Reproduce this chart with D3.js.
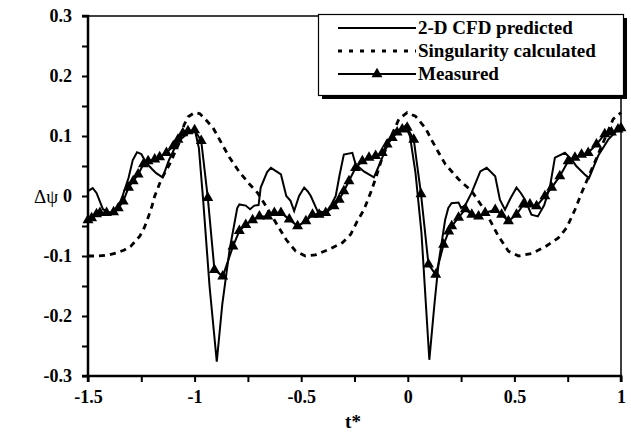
<!DOCTYPE html>
<html>
<head>
<meta charset="utf-8">
<script src="https://cdn.jsdelivr.net/npm/d3@7"></script>
<style>
  html, body { margin: 0; padding: 0; background: #fff; }
  svg { display: block; }
  text { font-family: "Liberation Serif", "Times New Roman", serif; fill: #000; }
</style>
</head>
<body>
<svg id="chart" width="631" height="434"></svg>
<script>
// 2-D CFD prediction
const cfdT = [-1.5, -1.478, -1.46, -1.43, -1.40, -1.38, -1.36, -1.34, -1.31, -1.29, -1.27, -1.25, -1.23, -1.20, -1.18, -1.15, -1.12, -1.08, -1.04, -1.0, -0.98, -0.96, -0.93, -0.896, -0.87, -0.836, -0.80, -0.79, -0.76, -0.74, -0.72, -0.70, -0.69, -0.66, -0.642, -0.62, -0.595, -0.57, -0.55, -0.533, -0.51, -0.486, -0.47, -0.455, -0.424, -0.385, -0.36, -0.338, -0.32, -0.30, -0.26, -0.245, -0.206, -0.159, -0.13, -0.104, -0.065, -0.03, -0.011, 0.01, 0.036, 0.064, 0.101, 0.125, 0.145, 0.175, 0.19, 0.205, 0.238, 0.25, 0.27, 0.30, 0.34, 0.37, 0.41, 0.432, 0.456, 0.48, 0.51, 0.53, 0.55, 0.58, 0.61, 0.64, 0.667, 0.69, 0.737, 0.77, 0.79, 0.83, 0.85, 0.893, 0.94, 0.986, 1.0];
const cfdV = [0.008, 0.013, 0.005, -0.022, -0.028, -0.03, -0.02, -0.002, 0.03, 0.06, 0.073, 0.07, 0.057, 0.045, 0.038, 0.031, 0.06, 0.09, 0.102, 0.112, 0.08, -0.006, -0.15, -0.276, -0.18, -0.09, -0.02, -0.014, -0.016, -0.022, -0.016, -0.015, 0.014, 0.04, 0.047, 0.042, 0.036, 0.0, -0.008, -0.025, 0.0, 0.014, 0.008, 0.0, -0.025, -0.028, -0.015, 0.0, 0.035, 0.069, 0.072, 0.053, 0.041, 0.031, 0.055, 0.078, 0.106, 0.11, 0.117, 0.10, 0.039, -0.061, -0.273, -0.18, -0.11, -0.04, -0.02, -0.012, -0.011, -0.02, -0.015, 0.006, 0.041, 0.047, 0.033, -0.006, -0.023, -0.005, 0.014, 0.005, -0.006, -0.031, -0.034, -0.015, 0.016, 0.064, 0.072, 0.06, 0.05, 0.036, 0.03, 0.067, 0.094, 0.111, 0.115];

// Singularity method
const singT = [-1.5, -1.45, -1.40, -1.366, -1.33, -1.30, -1.257, -1.235, -1.218, -1.20, -1.187, -1.156, -1.117, -1.09, -1.07, -1.05, -1.03, -1.0, -0.975, -0.95, -0.914, -0.883, -0.836, -0.79, -0.743, -0.704, -0.665, -0.618, -0.57, -0.526, -0.48, -0.433, -0.37, -0.307, -0.268, -0.237, -0.206, -0.175, -0.152, -0.12, -0.081, -0.042, -0.003, 0.036, 0.083, 0.114, 0.145, 0.176, 0.238, 0.30, 0.363, 0.425, 0.472, 0.52, 0.58, 0.643, 0.706, 0.745, 0.784, 0.815, 0.862, 0.909, 0.963, 1.0];
const singV = [-0.1, -0.1, -0.098, -0.095, -0.09, -0.084, -0.067, -0.052, -0.036, -0.017, 0.0, 0.028, 0.053, 0.075, 0.09, 0.118, 0.132, 0.139, 0.137, 0.128, 0.114, 0.094, 0.064, 0.04, 0.02, 0.005, -0.017, -0.045, -0.073, -0.092, -0.1, -0.098, -0.089, -0.078, -0.064, -0.042, -0.023, 0.005, 0.028, 0.064, 0.097, 0.128, 0.139, 0.133, 0.113, 0.092, 0.072, 0.053, 0.028, 0.008, -0.025, -0.067, -0.092, -0.1, -0.096, -0.085, -0.07, -0.053, -0.023, 0.005, 0.044, 0.083, 0.128, 0.139];

// Measured samples
const measT = [-1.5, -1.483, -1.46, -1.444, -1.413, -1.38, -1.358, -1.335, -1.31, -1.288, -1.265, -1.24, -1.218, -1.187, -1.164, -1.132, -1.10, -1.078, -1.055, -1.031, -1.0, -0.969, -0.938, -0.907, -0.868, -0.82, -0.79, -0.76, -0.728, -0.696, -0.657, -0.626, -0.595, -0.556, -0.517, -0.478, -0.447, -0.416, -0.385, -0.346, -0.322, -0.30, -0.276, -0.245, -0.213, -0.182, -0.151, -0.12, -0.097, -0.073, -0.05, -0.026, -0.003, 0.028, 0.062, 0.097, 0.131, 0.168, 0.192, 0.206, 0.238, 0.27, 0.30, 0.332, 0.363, 0.41, 0.44, 0.472, 0.51, 0.542, 0.573, 0.604, 0.643, 0.675, 0.713, 0.752, 0.784, 0.815, 0.846, 0.885, 0.924, 0.955, 0.986, 1.0];
const measV = [-0.04, -0.037, -0.03, -0.028, -0.028, -0.027, -0.02, -0.009, 0.014, 0.025, 0.036, 0.053, 0.058, 0.061, 0.065, 0.072, 0.083, 0.094, 0.105, 0.108, 0.11, 0.092, -0.003, -0.123, -0.134, -0.084, -0.058, -0.048, -0.04, -0.034, -0.034, -0.028, -0.028, -0.039, -0.05, -0.042, -0.031, -0.031, -0.028, -0.017, -0.006, 0.008, 0.025, 0.047, 0.058, 0.064, 0.067, 0.072, 0.086, 0.097, 0.106, 0.111, 0.114, 0.094, 0.003, -0.114, -0.131, -0.081, -0.059, -0.05, -0.036, -0.022, -0.031, -0.034, -0.028, -0.023, -0.031, -0.042, -0.031, -0.014, -0.014, -0.017, 0.0, 0.014, 0.033, 0.058, 0.064, 0.069, 0.072, 0.086, 0.103, 0.106, 0.111, 0.113];

// Axis ticks and labels
const xTicks = [-1.5, -1.25, -1, -0.75, -0.5, -0.25, 0, 0.25, 0.5, 0.75, 1];
const xLabels = ["-1.5", "-1", "-0.5", "0", "0.5", "1"];
const yTicks = [-0.3, -0.25, -0.2, -0.15, -0.1, -0.05, 0, 0.05, 0.1, 0.15, 0.2, 0.25, 0.3];
const yLabels = ["-0.3", "-0.2", "-0.1", "0", "0.1", "0.2", "0.3"];

const legendNames = ["2-D CFD predicted", "Singularity calculated", "Measured"];

const svg = d3.select("#chart");
const plotL = 88, plotR = 621, plotT = 16, plotB = 376;

const x = d3.scaleLinear().domain([-1.5, 1]).range([plotL, plotR]);
const y = d3.scaleLinear().domain([-0.3, 0.3]).range([plotB, plotT]);

const zip = (a, b) => a.map((t, i) => [t, b[i]]);
const line = d3.line().x(d => x(d[0])).y(d => y(d[1]));

// plot frame (top and right)
svg.append("path")
  .attr("d", `M${plotL},${plotT}H${plotR}V${plotB}`)
  .attr("fill", "none").attr("stroke", "#000").attr("stroke-width", 1.5);

// y axis: a label on every 0.1, plain ticks in between
const fmtY = d => {
  const tenths = Math.round(d * 100) / 10;
  if (Math.abs(tenths - Math.round(tenths)) > 1e-6) return "";
  const lab = Math.round(tenths) === 0 ? "0" : (Math.round(tenths) / 10).toFixed(1);
  return yLabels.includes(lab) ? lab : "";
};
const gy = svg.append("g").attr("transform", `translate(${plotL},0)`)
  .call(d3.axisLeft(y).tickValues(yTicks).tickSize(6).tickFormat(fmtY));
gy.select(".domain").attr("stroke-width", 2.5).attr("d", `M-6,${plotT}H0V${plotB}H-6`);
gy.selectAll(".tick line").attr("stroke-width", 2);
gy.selectAll(".tick text").attr("x", -16).style("font-size", "18px").style("font-weight", "bold");

// x axis: a label on every 0.5
const fmtX = d => {
  const lab = String(d);
  return xLabels.includes(lab) ? lab : "";
};
const gx = svg.append("g").attr("transform", `translate(0,${plotB})`)
  .call(d3.axisBottom(x).tickValues(xTicks).tickSize(6).tickFormat(fmtX));
gx.select(".domain").attr("stroke-width", 2.5).attr("d", `M${plotL},6V0H${plotR}V6`);
gx.selectAll(".tick line").attr("stroke-width", 2);
gx.selectAll(".tick text").attr("y", 14).style("font-size", "18px").style("font-weight", "bold");

// axis titles
svg.append("text").attr("x", 46).attr("y", 203).attr("text-anchor", "middle")
  .style("font-size", "19px").text("Δψ");
svg.append("text").attr("x", 353).attr("y", 428).attr("text-anchor", "middle")
  .style("font-size", "19px").style("font-weight", "bold").text("t*");

// series
svg.append("path").datum(zip(singT, singV)).attr("d", line)
  .attr("fill", "none").attr("stroke", "#000").attr("stroke-width", 2.8)
  .attr("stroke-dasharray", "6,5");
svg.append("path").datum(zip(cfdT, cfdV)).attr("d", line)
  .attr("fill", "none").attr("stroke", "#000").attr("stroke-width", 2);
svg.append("path").datum(zip(measT, measV)).attr("d", line)
  .attr("fill", "none").attr("stroke", "#000").attr("stroke-width", 2);
const tri = d3.symbol().type(d3.symbolTriangle).size(52);
svg.append("g").selectAll("path").data(zip(measT, measV)).join("path")
  .attr("transform", d => `translate(${x(d[0])},${y(d[1])})`)
  .attr("d", tri).attr("fill", "#000");

// legend with drop shadow
const lg = svg.append("g");
lg.append("rect").attr("x", 322).attr("y", 18).attr("width", 305).attr("height", 81).attr("fill", "#000");
lg.append("rect").attr("x", 318.5).attr("y", 14.5).attr("width", 305).attr("height", 81)
  .attr("fill", "#fff").attr("stroke", "#000").attr("stroke-width", 1.2);
const rowY = [28, 51, 74];
const styles = [{ dash: null, w: 2 }, { dash: "4,7", w: 3 }, { dash: null, w: 2 }];
legendNames.forEach((name, i) => {
  lg.append("line").attr("x1", 338).attr("x2", 416).attr("y1", rowY[i]).attr("y2", rowY[i])
    .attr("stroke", "#000").attr("stroke-width", styles[i].w)
    .attr("stroke-dasharray", styles[i].dash);
  if (i === 2) {
    lg.append("path").attr("transform", `translate(377,${rowY[i]})`).attr("d", tri).attr("fill", "#000");
  }
  lg.append("text").attr("x", 418).attr("y", rowY[i] + 6)
    .style("font-size", "19px").style("font-weight", "bold").text(name);
});
</script>
</body>
</html>
